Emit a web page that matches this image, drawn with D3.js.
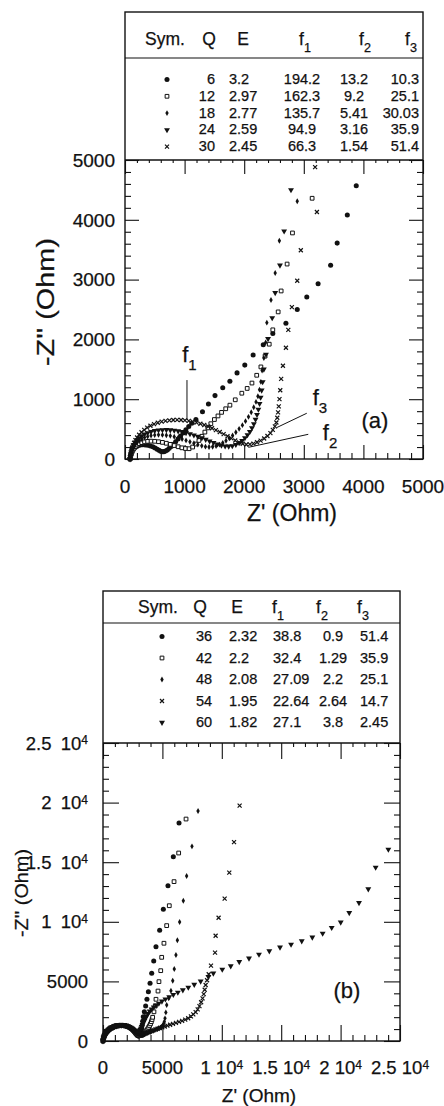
<!DOCTYPE html>
<html>
<head>
<meta charset="utf-8">
<script src="https://cdn.jsdelivr.net/npm/d3@7"></script>
<style>
body { margin: 0; background: #fff; }
text { font-family: "Liberation Sans", Arial, Helvetica, sans-serif; fill: #111; stroke: #111; stroke-width: 0.25px; }
</style>
</head>
<body>
<svg id="fig" width="444" height="1106"></svg>
<script>
// ---- table values ----
var symA = ["circle", "square", "diamond", "triangle", "cross"];
var qA = ["6", "12", "18", "24", "30"];
var eA = ["3.2", "2.97", "2.77", "2.59", "2.45"];
var f1A = ["194.2", "162.3", "135.7", "94.9", "66.3"];
var f2A = ["13.2", "9.2", "5.41", "3.16", "1.54"];
var f3A = ["10.3", "25.1", "30.03", "35.9", "51.4"];

var symB = ["circle", "square", "diamond", "cross", "triangle"];
var qB = ["36", "42", "48", "54", "60"];
var eB = ["2.32", "2.2", "2.08", "1.95", "1.82"];
var f1B = ["38.8", "32.4", "27.09", "22.64", "27.1"];
var f2B = ["0.9", "1.29", "2.2", "2.64", "3.8"];
var f3B = ["51.4", "35.9", "25.1", "14.7", "2.45"];

// ---- tick labels ----
var ticksA = ["0", "1000", "2000", "3000", "4000", "5000"];
var ticksBx = ["0", "5000", "1 10^4", "1.5 10^4", "2 10^4", "2.5 10^4"];
var ticksBy = ["0", "5000", "1\u200210^4", "1.5\u200210^4", "2\u200210^4", "2.5\u200210^4"];

// ---- panel (a) data: [Z', -Z''] in Ohm ----
var zA_q6 = [[85,0],[89,30],[95,60],[103,90],[114,118],[128,145],[146,170],[168,192],[194,210],[224,224],[258,233],[296,237],[338,236],[382,230],[426,219],[468,203],[506,184],[540,164],[570,145],[598,130],[625,122],[652,123],[680,133],[710,152],[742,178],[776,210],[812,248],[850,290],[890,336],[932,385],[976,436],[1022,488],[1070,542],[1120,598],[1190,660],[1300,790],[1400,920],[1510,1060],[1640,1190],[1760,1300],[1880,1440],[2010,1570],[2150,1740],[2320,1910],[2480,2100],[2700,2270],[2890,2500],[3050,2710],[3240,2930],[3450,3240],[3560,3610],[3730,4080],[3880,4570]];
var zA_q12 = [[85,0],[90,30],[97,60],[106,90],[118,120],[133,150],[152,180],[176,208],[205,234],[240,256],[281,274],[328,287],[380,295],[437,298],[498,296],[562,289],[628,278],[694,263],[760,245],[826,225],[892,205],[955,187],[1015,175],[1075,172],[1135,200],[1190,250],[1240,310],[1290,380],[1340,450],[1390,520],[1440,590],[1500,660],[1560,720],[1620,780],[1690,840],[1760,900],[1850,990],[1960,1100],[2050,1180],[2130,1270],[2210,1400],[2280,1540],[2350,1720],[2420,1920],[2480,2160],[2570,2460],[2620,2810],[2720,3260],[2810,3780],[3140,4360]];
var zA_q18 = [[85,0],[90,35],[97,70],[106,105],[118,140],[133,175],[152,210],[176,245],[205,278],[240,308],[281,335],[328,358],[380,377],[437,391],[498,400],[562,404],[628,403],[694,397],[760,387],[826,373],[892,355],[958,334],[1024,311],[1090,287],[1156,263],[1222,240],[1288,220],[1350,206],[1410,200],[1470,204],[1528,218],[1585,240],[1640,270],[1695,306],[1750,348],[1805,395],[1860,447],[1915,504],[1970,566],[2022,633],[2072,705],[2118,782],[2160,865],[2198,955],[2230,1050],[2257,1160],[2280,1290],[2300,1480],[2330,1690],[2360,1950],[2380,2280],[2450,2660],[2520,3110],[2590,3650],[2890,4310]];
var zA_q24 = [[85,0],[90,40],[97,80],[106,120],[118,160],[133,200],[152,240],[176,280],[205,318],[240,353],[281,385],[328,413],[380,437],[437,457],[498,472],[562,482],[628,487],[694,488],[760,485],[826,478],[892,468],[958,455],[1024,439],[1090,420],[1156,399],[1222,376],[1288,351],[1354,325],[1420,299],[1486,273],[1552,249],[1618,229],[1680,215],[1740,212],[1800,220],[1860,240],[1915,270],[1965,308],[2012,352],[2055,402],[2095,458],[2130,520],[2162,588],[2190,662],[2215,742],[2238,830],[2258,925],[2276,1030],[2293,1150],[2310,1290],[2330,1500],[2365,1750],[2400,2010],[2470,2360],[2520,2780],[2600,3240],[2670,3810],[2785,4500]];
var zA_q30 = [[85,0],[90,45],[97,90],[106,135],[118,180],[133,225],[152,270],[175,315],[203,360],[237,405],[277,448],[322,488],[372,524],[427,556],[487,584],[550,607],[615,625],[680,638],[745,647],[810,652],[875,654],[940,652],[1005,647],[1070,638],[1135,625],[1200,609],[1265,590],[1330,568],[1395,543],[1460,515],[1525,484],[1590,451],[1655,416],[1720,380],[1785,344],[1850,310],[1915,279],[1975,255],[2035,243],[2095,245],[2155,258],[2215,280],[2275,308],[2335,343],[2390,385],[2440,433],[2480,487],[2515,545],[2540,610],[2555,690],[2568,780],[2580,880],[2592,1000],[2605,1150],[2620,1340],[2650,1560],[2700,1860],[2740,2160],[2800,2540],[2890,2980],[2950,3490],[3220,4130],[3190,4880]];

// ---- panel (b) data ----
var zB_q36 = [[0,0],[15,100],[35,200],[60,300],[95,400],[135,500],[185,600],[245,700],[315,790],[395,880],[485,960],[585,1040],[695,1110],[815,1170],[945,1225],[1080,1270],[1220,1300],[1365,1320],[1510,1325],[1655,1315],[1800,1290],[1940,1250],[2075,1195],[2205,1125],[2325,1045],[2440,955],[2545,860],[2640,760],[2725,660],[2800,570],[2870,490],[2935,430],[3000,410],[3060,440],[3110,530],[3160,680],[3210,870],[3255,1080],[3300,1320],[3340,1650],[3390,2040],[3480,2460],[3590,2940],[3700,3500],[3820,4140],[3960,4840],[4100,5680],[4270,6710],[4460,7900],[4770,9290],[5080,11050],[5470,13030],[5920,15460],[6400,18290]];
var zB_q42 = [[0,0],[15,90],[35,180],[62,280],[97,380],[140,480],[192,580],[254,680],[326,770],[408,860],[500,945],[602,1020],[714,1090],[836,1150],[968,1205],[1105,1250],[1248,1285],[1395,1305],[1545,1312],[1695,1305],[1845,1285],[1990,1250],[2130,1200],[2265,1135],[2390,1060],[2505,975],[2610,885],[2705,795],[2795,710],[2880,630],[2960,565],[3040,515],[3120,485],[3200,475],[3280,490],[3360,530],[3440,595],[3520,680],[3600,780],[3680,890],[3760,1010],[3840,1140],[3920,1280],[4000,1440],[4070,1620],[4130,1800],[4180,1990],[4290,2450],[4400,2940],[4460,3500],[4630,4190],[4710,4980],[4860,5900],[4940,7020],[5130,8200],[5360,9680],[5580,11350],[5980,13370],[6370,15770],[6990,18620]];
var zB_q48 = [[0,0],[15,85],[37,175],[65,270],[100,365],[145,460],[198,555],[262,650],[336,740],[420,825],[514,905],[618,980],[732,1048],[856,1110],[988,1163],[1126,1208],[1270,1243],[1418,1265],[1568,1275],[1718,1272],[1866,1255],[2010,1225],[2150,1180],[2282,1122],[2405,1052],[2520,975],[2625,893],[2722,810],[2812,730],[2897,660],[2980,600],[3060,555],[3140,530],[3220,520],[3300,525],[3400,545],[3500,575],[3620,615],[3740,660],[3860,710],[3980,760],[4100,810],[4220,860],[4340,910],[4460,960],[4580,1010],[4700,1065],[4820,1125],[4930,1200],[5030,1300],[5100,1440],[5160,1620],[5220,1900],[5290,2400],[5360,3020],[5530,3580],[5720,4220],[5870,5060],[6000,6040],[6140,7210],[6260,8450],[6450,9980],[6760,11770],[7040,13840],[7490,16330],[8000,19300]];
var zB_q54 = [[0,0],[15,95],[36,190],[63,290],[98,390],[142,490],[195,590],[258,690],[331,780],[414,870],[507,950],[610,1025],[723,1095],[846,1155],[978,1210],[1116,1255],[1260,1290],[1408,1312],[1558,1320],[1708,1313],[1856,1292],[2000,1258],[2138,1210],[2268,1150],[2388,1080],[2498,1003],[2598,925],[2690,850],[2775,780],[2855,718],[2932,668],[3008,632],[3085,610],[3165,600],[3250,603],[3340,615],[3440,640],[3550,675],[3670,715],[3800,760],[3940,810],[4090,860],[4250,915],[4420,970],[4600,1030],[4790,1090],[4990,1150],[5200,1215],[5420,1285],[5650,1360],[5890,1440],[6140,1520],[6400,1600],[6660,1690],[6920,1790],[7170,1910],[7400,2060],[7600,2230],[7800,2420],[7970,2650],[8120,2920],[8260,3250],[8380,3580],[8480,3930],[8560,4300],[8640,4700],[8760,5100],[8900,5600],[9090,6320],[9430,7410],[9480,8830],[9730,10340],[10240,11940],[10630,14120],[11030,16690],[11500,19740]];
var zB_q60 = [[0,0],[15,105],[35,210],[60,315],[93,420],[133,525],[182,630],[240,730],[308,825],[386,915],[474,1000],[572,1078],[680,1148],[798,1210],[926,1263],[1062,1305],[1205,1337],[1353,1357],[1503,1365],[1653,1360],[1800,1342],[1942,1310],[2078,1265],[2206,1208],[2324,1140],[2432,1062],[2530,978],[2618,895],[2698,820],[2770,760],[2840,718],[2905,700],[2965,712],[3020,760],[3075,840],[3130,940],[3190,1060],[3255,1200],[3325,1360],[3400,1530],[3480,1710],[3570,1900],[3670,2100],[3790,2300],[3930,2490],[4090,2670],[4270,2840],[4470,3000],[4700,3160],[4960,3330],[5250,3510],[5570,3700],[5920,3890],[6300,4080],[6720,4280],[7180,4500],[7680,4740],[8220,5010],[8870,5400],[9290,5680],[10040,6010],[10750,6290],[11470,6650],[12290,6940],[13130,7270],[14000,7550],[14900,7860],[15830,8110],[16730,8390],[17620,8700],[18490,9030],[19250,9510],[20010,9960],[20730,10760],[21550,11600],[22330,12750],[22950,14570],[24020,16080]];

var seriesA = [zA_q6, zA_q12, zA_q18, zA_q24, zA_q30];
var seriesB = [zB_q36, zB_q42, zB_q48, zB_q54, zB_q60];

var svg = d3.select("#fig");

// cross marker for d3.symbol
var symTimes = {
  draw: function (ctx, size) {
    var r = Math.sqrt(size) / 2;
    ctx.moveTo(-r, -r); ctx.lineTo(r, r);
    ctx.moveTo(r, -r); ctx.lineTo(-r, r);
  }
};

function marker(sel, kind) {
  var types = { circle: d3.symbolCircle, square: d3.symbolSquare, diamond: d3.symbolDiamond, triangle: d3.symbolTriangle, cross: symTimes };
  var sizes = { circle: 20, square: 14, diamond: 10, triangle: 15, cross: 16 };
  var open = kind == "square" || kind == "cross";
  sel.attr("d", d3.symbol().type(types[kind]).size(sizes[kind]))
    .attr("fill", kind == "square" ? "#fff" : (kind == "cross" ? "none" : "#111"))
    .attr("stroke", open ? "#111" : "none")
    .attr("stroke-width", kind == "cross" ? 1.2 : 1);
}

function richText(t, str, supSize) {
  var parts = str.split("^");
  t.append("tspan").text(parts[0]);
  if (parts[1]) t.append("tspan").attr("dy", "-0.45em").style("font-size", supSize + "px").text(parts[1]);
}

function panel(opt) {
  var x = opt.x, y = opt.y;
  var xr = x.range(), yr = y.range();
  var max = x.domain()[1];
  var g = svg.append("g");

  // frame around table + plot
  g.append("rect").attr("x", xr[0]).attr("y", opt.top).attr("width", xr[1] - xr[0]).attr("height", yr[0] - opt.top)
    .attr("fill", "none").attr("stroke", "#111").attr("stroke-width", 1.4);
  g.append("line").attr("x1", xr[0]).attr("x2", xr[1]).attr("y1", opt.headLine).attr("y2", opt.headLine)
    .attr("stroke", "#111").attr("stroke-width", 1.2);
  g.append("line").attr("x1", xr[0]).attr("x2", xr[1]).attr("y1", yr[1]).attr("y2", yr[1])
    .attr("stroke", "#111").attr("stroke-width", 1.4);

  var majors = d3.range(0, max + 1, opt.major);
  var minors = d3.range(0, max + 1, opt.minor).filter(function (v) { return v % opt.major != 0; });

  function ax(fn, pos, vals, size) {
    var a = fn(fn == d3.axisBottom || fn == d3.axisTop ? x : y).tickValues(vals).tickSize(-size).tickSizeOuter(0).tickFormat("");
    var gg = g.append("g").attr("transform", pos).call(a);
    gg.select(".domain").remove();
    gg.selectAll("line").attr("stroke", "#111").attr("stroke-width", 1.1);
  }
  ax(d3.axisBottom, "translate(0," + yr[0] + ")", majors, opt.majLen);
  ax(d3.axisBottom, "translate(0," + yr[0] + ")", minors, opt.minLen);
  ax(d3.axisTop, "translate(0," + yr[1] + ")", majors, opt.majLen);
  ax(d3.axisTop, "translate(0," + yr[1] + ")", minors, opt.topMinLen);
  ax(d3.axisLeft, "translate(" + xr[0] + ",0)", majors, opt.majLen);
  ax(d3.axisLeft, "translate(" + xr[0] + ",0)", minors, opt.minLen);
  ax(d3.axisRight, "translate(" + xr[1] + ",0)", majors, opt.majLen);
  ax(d3.axisRight, "translate(" + xr[1] + ",0)", minors, opt.minLen);

  // tick labels
  g.selectAll(".xl").data(majors).enter().append("text")
    .attr("x", function (d) { return x(d); }).attr("y", yr[0] + opt.xLabOff)
    .attr("text-anchor", "middle").style("font-size", opt.tickFont + "px")
    .each(function (d, i) { richText(d3.select(this), opt.xTicks[i], opt.tickFont * 0.65); });
  g.selectAll(".yl").data(majors).enter().append("text")
    .attr("x", xr[0] - opt.yLabOff).attr("y", function (d) { return y(d) + opt.tickFont * 0.36; })
    .attr("text-anchor", "end").style("font-size", opt.tickFont + "px")
    .each(function (d, i) { richText(d3.select(this), opt.yTicks[i], opt.tickFont * 0.65); });

  // axis titles
  g.append("text").attr("x", opt.xTitle[0]).attr("y", opt.xTitle[1]).attr("text-anchor", "middle")
    .style("font-size", opt.xTitleFont + "px").text("Z' (Ohm)");
  g.append("text").attr("transform", "translate(" + opt.yTitle[0] + "," + opt.yTitle[1] + ") rotate(-90)")
    .attr("text-anchor", "middle").style("font-size", opt.yTitleFont + "px")
    .attr("textLength", opt.yTitleLen).attr("lengthAdjust", "spacingAndGlyphs")
    .text("-Z'' (Ohm)");

  // data points
  opt.series.forEach(function (pts, i) {
    g.append("g").selectAll("path").data(pts).enter().append("path")
      .attr("transform", function (d) {
        return "translate(" + x(d[0]) + "," + y(d[1]) + ")" + (opt.syms[i] == "triangle" ? " rotate(180)" : "");
      })
      .call(marker, opt.syms[i]);
  });

  // table header
  var h = opt.head;
  g.append("text").attr("x", h.sym).attr("y", h.base).style("font-size", h.font + "px").text("Sym.");
  g.append("text").attr("x", h.q).attr("y", h.base).attr("text-anchor", "middle").style("font-size", h.font + "px").text("Q");
  g.append("text").attr("x", h.e).attr("y", h.base).attr("text-anchor", "middle").style("font-size", h.font + "px").text("E");
  [["1", h.f1], ["2", h.f2], ["3", h.f3]].forEach(function (f) {
    var t = g.append("text").attr("x", f[1]).attr("y", h.base).style("font-size", h.font + "px");
    t.append("tspan").text("f");
    t.append("tspan").attr("dy", h.font * 0.4).style("font-size", (h.font * 0.72) + "px").text(f[0]);
  });

  // table rows
  var r = opt.rows;
  opt.syms.forEach(function (s, i) {
    var by = r.base + i * r.step;
    g.append("path").attr("transform", "translate(" + r.symX + "," + (by - 4.5) + ")" + (s == "triangle" ? " rotate(180)" : "")).call(marker, s);
    r.cols.forEach(function (c) {
      g.append("text").attr("x", c.x).attr("y", by).attr("text-anchor", c.anchor)
        .style("font-size", r.font + "px").text(c.vals[i]);
    });
  });
  return g;
}

// ---- panel (a) ----
var xA = d3.scaleLinear().domain([0, 5000]).range([125, 423]);
var yA = d3.scaleLinear().domain([0, 5000]).range([459, 160]);
var gA = panel({
  x: xA, y: yA, top: 12, headLine: 58,
  major: 1000, minor: 200, majLen: 14, minLen: 6, topMinLen: 3,
  xTicks: ticksA, yTicks: ticksA, tickFont: 19, xLabOff: 34, yLabOff: 10,
  xTitleFont: 23, xTitle: [292, 521], yTitleFont: 23, yTitle: [54, 302], yTitleLen: 128,
  series: seriesA, syms: symA,
  head: { base: 45, font: 17.5, sym: 145, q: 209, e: 243, f1: 299, f2: 359, f3: 405 },
  rows: { base: 84, step: 16.8, font: 14.5, symX: 167, cols: [
    { x: 215, anchor: "end", vals: qA },
    { x: 229, anchor: "start", vals: eA },
    { x: 302, anchor: "middle", vals: f1A },
    { x: 354, anchor: "middle", vals: f2A },
    { x: 419, anchor: "end", vals: f3A }] }
});
// f1 / f2 / f3 pointers
var notesA = [
  { lab: "1", at: [960, 1620], line: [[1040, 1320], [1040, 650]] },
  { lab: "3", at: [3150, 900], line: [[3050, 765], [2545, 525]] },
  { lab: "2", at: [3320, 320], line: [[3075, 413], [2070, 195]] }
];
notesA.forEach(function (n) {
  gA.append("line").attr("x1", xA(n.line[0][0])).attr("y1", yA(n.line[0][1]))
    .attr("x2", xA(n.line[1][0])).attr("y2", yA(n.line[1][1])).attr("stroke", "#111").attr("stroke-width", 1);
  var t = gA.append("text").attr("x", xA(n.at[0])).attr("y", yA(n.at[1])).style("font-size", "22px");
  t.append("tspan").text("f");
  t.append("tspan").attr("dy", 8).style("font-size", "15px").text(n.lab);
});
gA.append("text").attr("x", 375).attr("y", 428).attr("text-anchor", "middle").style("font-size", "22px").text("(a)");

// ---- panel (b) ----
var xB = d3.scaleLinear().domain([0, 25000]).range([103, 400]);
var yB = d3.scaleLinear().domain([0, 25000]).range([1041, 743]);
var gB = panel({
  x: xB, y: yB, top: 591, headLine: 623,
  major: 5000, minor: 1000, majLen: 16, minLen: 6, topMinLen: 4,
  xTicks: ticksBx, yTicks: ticksBy, tickFont: 18.5, xLabOff: 33, yLabOff: 15,
  xTitleFont: 19, xTitle: [259, 1102], yTitleFont: 19, yTitle: [28, 893], yTitleLen: 88,
  series: seriesB, syms: symB,
  head: { base: 613, font: 17.5, sym: 138, q: 200, e: 237, f1: 272, f2: 316, f3: 357 },
  rows: { base: 641, step: 21.5, font: 14.5, symX: 162, cols: [
    { x: 196, anchor: "start", vals: qB },
    { x: 229, anchor: "start", vals: eB },
    { x: 273, anchor: "start", vals: f1B },
    { x: 333, anchor: "middle", vals: f2B },
    { x: 360, anchor: "start", vals: f3B }] }
});
gB.append("text").attr("x", 347).attr("y", 998).attr("text-anchor", "middle").style("font-size", "22px").text("(b)");
</script>
</body>
</html>
